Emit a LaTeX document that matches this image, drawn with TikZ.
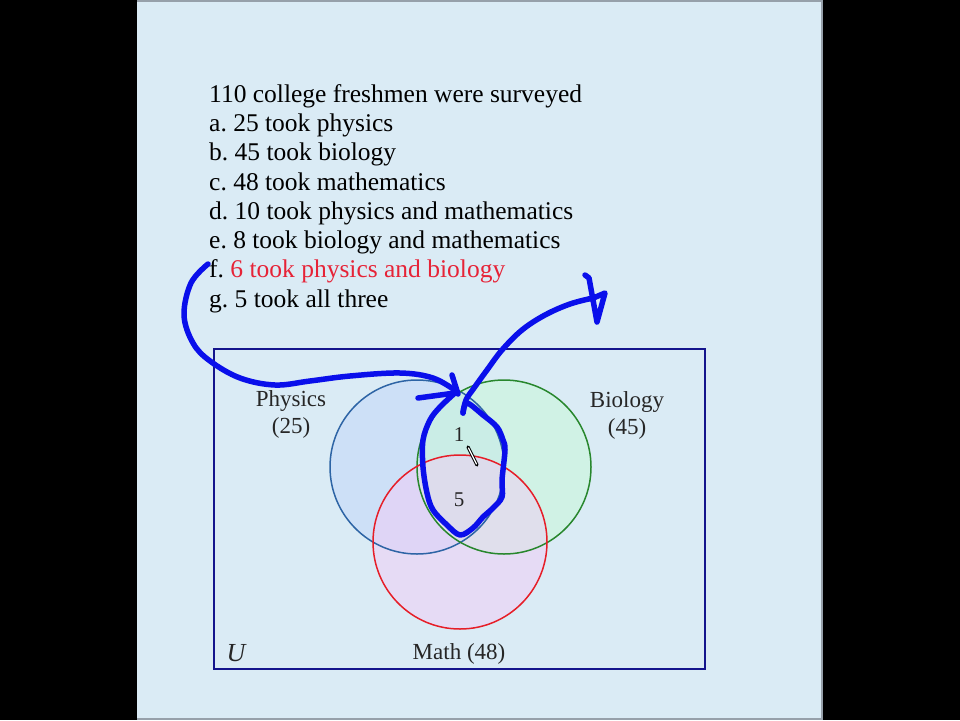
\documentclass[tikz,border=0pt]{standalone}
\usepackage{fontspec}
\setmainfont{Liberation Serif}
\frenchspacing
\begin{document}
\frenchspacing
\begin{tikzpicture}[x=1pt,y=-1pt]
\definecolor{bg}{RGB}{218,235,245}
\definecolor{frame}{RGB}{150,160,170}
\definecolor{navy}{RGB}{20,20,140}
\definecolor{pcol}{RGB}{45,100,165}
\definecolor{bcol}{RGB}{40,135,45}
\definecolor{mcol}{RGB}{230,30,40}
\definecolor{pfill}{RGB}{195,215,250}
\definecolor{bfill}{RGB}{200,250,215}
\definecolor{mfill}{RGB}{245,200,245}
\definecolor{redtxt}{RGB}{230,35,55}
\definecolor{penblue}{RGB}{10,15,235}
\tikzset{
  txt/.style={anchor=base west, inner sep=0pt, font=\fontsize{25.5}{30}\selectfont},
  lbl/.style={anchor=base, inner sep=0pt, font=\fontsize{23}{27}\selectfont, text=black!85},
  num/.style={anchor=base, inner sep=0pt, font=\fontsize{21}{25}\selectfont, text=black!85},
  setc/.style={circle, minimum size=174pt, inner sep=0pt},
  pen/.style={draw=penblue, line width=5.5pt, line cap=round, line join=round}
}
% background
\fill[black] (0,0) rectangle (960,720);
\fill[bg] (137,0) rectangle (822,720);
\draw[frame, line width=1.5pt] (137,1) -- (822,1) -- (822,719) -- (137,719);
\useasboundingbox (0,0) rectangle (960,720);

% problem text
\node[txt] (t0) at (209,102) {110 college freshmen were surveyed};
\node[txt] (ta) at (209,131.3) {a. 25 took physics};
\node[txt] (tb) at (209,160.6) {b. 45 took biology};
\node[txt] (tc) at (209,190) {c. 48 took mathematics};
\node[txt] (td) at (209,219.2) {d. 10 took physics and mathematics};
\node[txt] (te) at (209,248.5) {e. 8 took biology and mathematics};
\node[txt] (tf) at (209,277.8) {f. \textcolor{redtxt}{6 took physics and biology}};
\node[txt] (tg) at (209,307) {g. 5 took all three};

% universe
\node[draw=navy, line width=2.5pt, minimum width=491pt, minimum height=320pt, inner sep=0pt] (U) at (459.5,509) {};

% circle fills
\node[setc, fill=pfill, fill opacity=0.55] (Pf) at (417,467) {};
\node[setc, fill=bfill, fill opacity=0.5] (Bf) at (504,467) {};
\node[setc, fill=mfill, fill opacity=0.45] (Mf) at (460,542) {};
% circle outlines
\node[setc, draw=pcol, line width=1.5pt] (P) at (417,467) {};
\node[setc, draw=bcol, line width=1.5pt] (B) at (504,467) {};
\node[setc, draw=mcol, line width=1.5pt] (M) at (460,542) {};

% labels
\node[lbl] (lp1) at (291,406) {Physics};
\node[lbl] (lp2) at (291,433) {(25)};
\node[lbl] (lb1) at (627,407) {Biology};
\node[lbl] (lb2) at (627,434) {(45)};
\node[lbl] (lm) at (459,659) {Math (48)};
\node[lbl, font=\fontsize{26}{30}\selectfont\itshape] (lu) at (236,661) {U};
\node[num] (n1) at (459,441) {1};
\node[num] (n5) at (459,506) {5};

% hand-drawn pen strokes
\draw[pen] plot[smooth, tension=0.6] coordinates {(208,264) (191,283) (184,315) (193,343) (210,361) (240,378) (275,385) (310,381) (350,376) (400,373) (433,378) (456,391)};
\draw[pen] (452,375) -- (458,394);
\draw[pen] (418,398) -- (455,393);
\draw[pen] plot[smooth, tension=0.55] coordinates {(456,392) (440,407) (430,420) (423,440) (423,467) (427,493) (433,510) (447,525) (460,535) (473,528) (483,517) (493,508) (502,497) (502,480) (505,450) (503,440) (497,427) (483,415) (467,403) (463,413)};
\draw[pen] plot[smooth, tension=0.6] coordinates {(463,413) (466,400) (474,388) (487,370) (502,350) (522,330) (545,315) (570,304) (593,298)};
\draw[pen] (585,275) -- (589,278) -- (597,322) -- (605,293) -- (591,299);

% cursor
\draw[black, line width=3.2pt, line cap=round] (468,447) -- (477,465);
\draw[white, line width=1.2pt, line cap=round] (468.5,448) -- (476.5,464);
\end{tikzpicture}
\end{document}
